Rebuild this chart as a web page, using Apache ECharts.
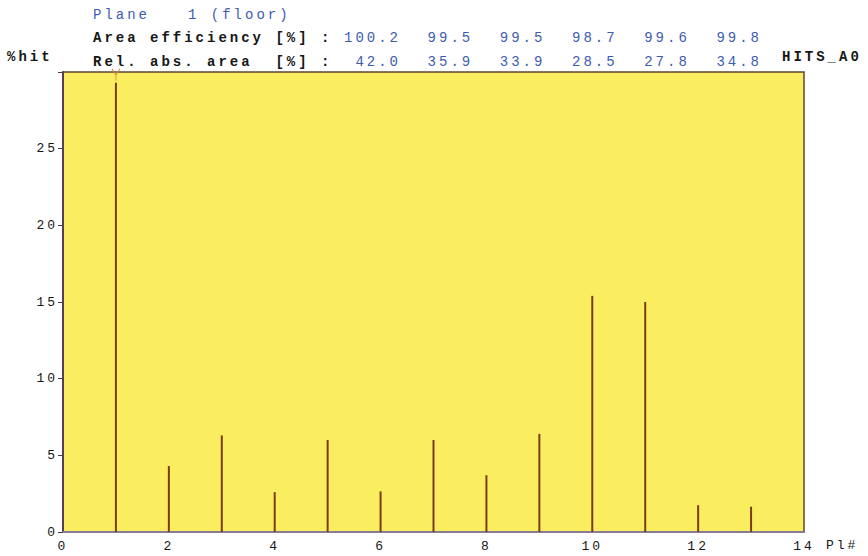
<!DOCTYPE html>
<html>
<head>
<meta charset="utf-8">
<script src="https://cdn.jsdelivr.net/npm/echarts@6/dist/echarts.min.js"></script>
<style>
  html, body { margin: 0; padding: 0; background: #ffffff; }
  #main { width: 868px; height: 556px; }
  /* wide, typewriter-like spacing for every label */
  #main svg text { letter-spacing: 3px; }
</style>
</head>
<body>
<div id="main"></div>
<script>
// Plane numbers and share of hits per plane (%)
const planes = [1, 2, 3, 4, 5, 6, 7, 8, 9, 10, 11, 12, 13];
const hitPercent = [29.3, 4.3, 6.3, 2.6, 6.0, 2.65, 6.0, 3.7, 6.4, 15.4, 15.0, 1.75, 1.65];

// Header table values
const planeLabel = '1 (floor)';
const areaEfficiency = ['100.2', '99.5', '99.5', '98.7', '99.6', '99.8'];
const relAbsArea = ['42.0', '35.9', '33.9', '28.5', '27.8', '34.8'];

const MONO = "'Liberation Mono', 'DejaVu Sans Mono', monospace";
const BLUE = '#3d5cb0';
const INK = '#161616';

const chart = echarts.init(document.getElementById('main'), null, { renderer: 'svg' });

const headerTexts = [];
function txt(x, y, text, color, align, weight) {
  headerTexts.push({
    type: 'text', x: x, y: y, silent: true,
    style: {
      text: text, fill: color, font: (weight || 'normal') + ' 14px ' + MONO,
      textAlign: align || 'left', textVerticalAlign: 'middle'
    }
  });
}
txt(93, 15, 'Plane', BLUE);
txt(188, 15, planeLabel, BLUE);
txt(93, 38, 'Area efficiency [%] :', INK, 'left', 'bold');
txt(93, 62, 'Rel. abs. area  [%] :', INK, 'left', 'bold');
txt(7, 57, '%hit', INK, 'left', 'bold');
txt(782, 57, 'HITS_A0', INK, 'left', 'bold');
areaEfficiency.forEach((v, i) => txt(401 + i * 72.2, 38, v, BLUE, 'right'));
relAbsArea.forEach((v, i) => txt(401 + i * 72.2, 62, v, BLUE, 'right'));

chart.setOption({
  animation: false,
  backgroundColor: '#ffffff',
  grid: {
    left: 63, right: 64, top: 72, bottom: 24,
    show: true, backgroundColor: '#faee60',
    borderColor: '#5e4630', borderWidth: 1.5
  },
  xAxis: {
    type: 'value', min: 0, max: 14, interval: 2,
    name: 'Pl#', nameLocation: 'end', nameGap: 22,
    nameTextStyle: { color: INK, fontFamily: MONO, fontSize: 13, verticalAlign: 'top', padding: [7, 0, 0, 0] },
    axisLine: { show: true, onZero: false, lineStyle: { color: '#8a7c92', width: 2 } },
    axisTick: { show: false },
    splitLine: { show: false },
    axisLabel: { color: INK, fontFamily: MONO, fontSize: 13, margin: 8 }
  },
  yAxis: {
    type: 'value', min: 0, max: 30, interval: 5,
    axisLine: { show: true, lineStyle: { color: '#5a3e58', width: 2 } },
    axisTick: { show: true, length: 5, lineStyle: { color: '#4a3a4a' } },
    splitLine: { show: false },
    axisLabel: {
      color: INK, fontFamily: MONO, fontSize: 13, margin: 5,
      formatter: v => (v === 30 ? '' : String(v))
    }
  },
  series: [{
    type: 'bar',
    data: planes.map((p, i) => [p, hitPercent[i]]),
    barWidth: 2,
    itemStyle: { color: '#7a3c14' },
    clip: true,
    // small fork marking the top of the tallest peak
    markPoint: {
      symbol: 'path://M0,0 L5,7 L10,0 M5,7 L5,13',
      symbolSize: [8, 12],
      symbolOffset: [0, -8],
      itemStyle: { color: 'rgba(0,0,0,0)', borderColor: '#d98a3a', borderWidth: 1 },
      label: { show: false },
      data: [{ coord: [planes[0], hitPercent[0]] }]
    }
  }],
  graphic: headerTexts
});
</script>
</body>
</html>
